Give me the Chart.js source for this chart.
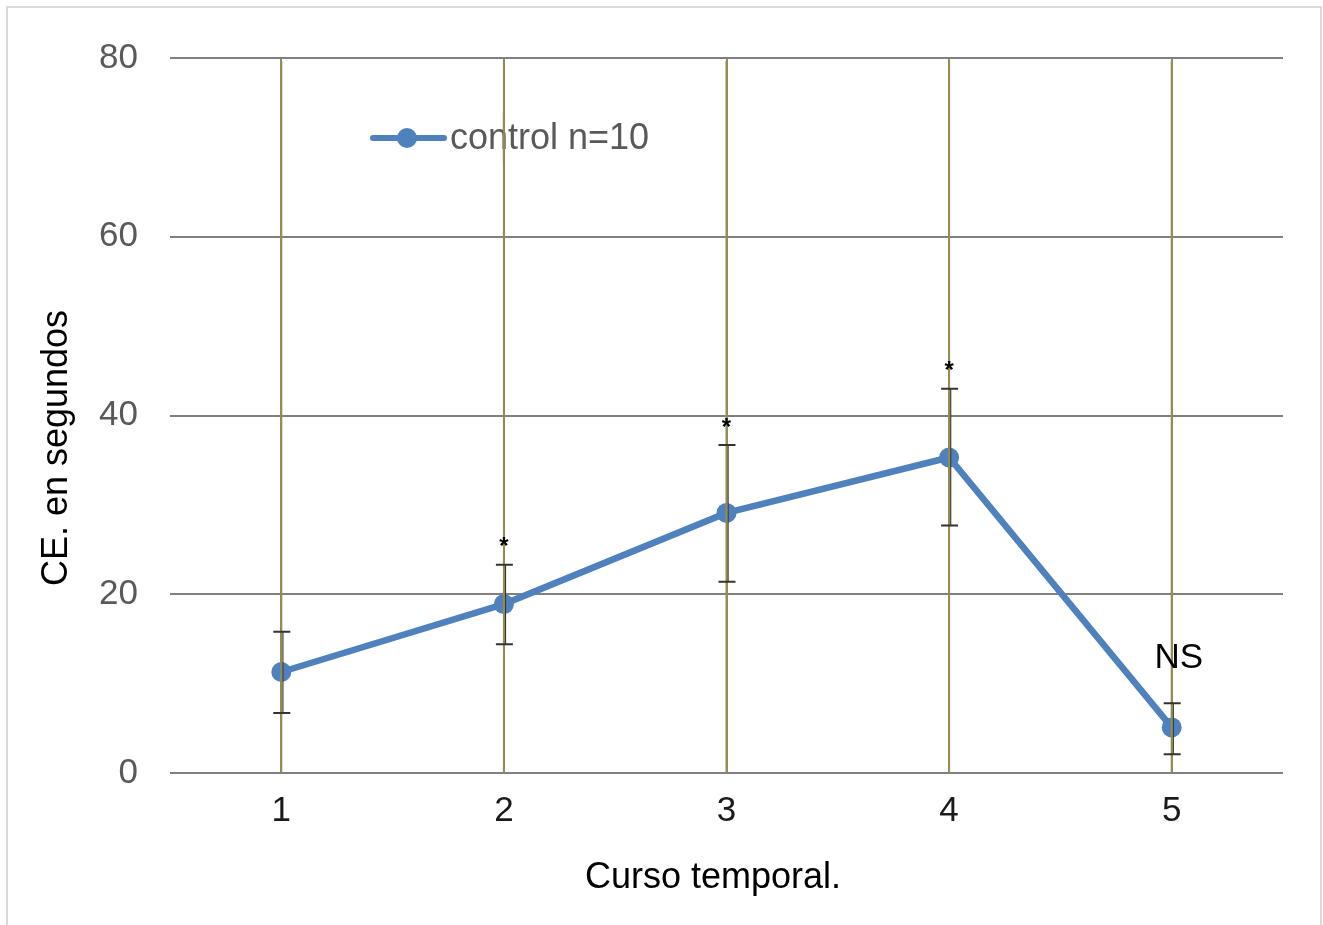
<!DOCTYPE html>
<html>
<head>
<meta charset="utf-8">
<script src="https://cdn.jsdelivr.net/npm/chart.js@4.4.1/dist/chart.umd.min.js"></script>
<style>
  html, body { margin: 0; padding: 0; background: #ffffff; }
  #wrap { position: relative; width: 1323px; height: 925px; }
</style>
</head>
<body>
<div id="wrap"><canvas id="c" width="1323" height="925"></canvas></div>
<script>
// Time-course data: mean CE (seconds) per stage, with its error range
const categories = ['1', '2', '3', '4', '5'];
const meanValues = [11.3, 18.9, 29.1, 35.3, 5.1];
const errorUpper = [15.8, 23.3, 36.7, 43.0, 7.8];
const errorLower = [6.7, 14.4, 21.4, 27.7, 2.1];
const significance = ['', '*', '*', '*', 'NS'];
const yTicks = [0, 20, 40, 60, 80];
const seriesLabel = 'control n=10';

const FONT = '"Liberation Sans", Arial, Helvetica, sans-serif';
const BLUE = '#4f81bd';
const OLIVE = '#958b55';

// Frame, error bars, category lines, significance marks, legend and axis titles
const extras = {
  id: 'extras',
  afterDatasetsDraw(chart) {
    const ctx = chart.ctx;
    const xs = chart.scales.x, ys = chart.scales.y;
    const area = chart.chartArea;
    ctx.save();
    categories.forEach((c, i) => {
      const x = xs.getPixelForValue(i);
      const yt = ys.getPixelForValue(errorUpper[i]);
      const yb = ys.getPixelForValue(errorLower[i]);
      // error bar stem, then the category line over the marker
      ctx.strokeStyle = '#3a3a2a';
      ctx.lineWidth = 1.2;
      ctx.beginPath();
      ctx.moveTo(x + 1.6, yt); ctx.lineTo(x + 1.6, yb);
      ctx.stroke();
      ctx.strokeStyle = OLIVE;
      ctx.lineWidth = 2;
      ctx.beginPath();
      ctx.moveTo(x, area.top + 3); ctx.lineTo(x, area.bottom);
      ctx.stroke();
      // caps
      ctx.strokeStyle = '#333333';
      ctx.lineWidth = 2;
      ctx.beginPath();
      ctx.moveTo(x - 8, yt); ctx.lineTo(x + 9, yt);
      ctx.moveTo(x - 8, yb); ctx.lineTo(x + 9, yb);
      ctx.stroke();
      // significance marks
      const s = significance[i];
      if (s) {
        ctx.fillStyle = '#000000';
        ctx.textAlign = 'center';
        ctx.textBaseline = 'middle';
        if (s === '*') {
          ctx.font = 'bold 24px ' + FONT;
          ctx.fillText(s, x, yt - 17);
        } else {
          ctx.font = '35px ' + FONT;
          ctx.fillText(s, x + 7, yt - 45);
        }
      }
    });

    // legend inside the plot
    const ly = 138;
    ctx.strokeStyle = BLUE;
    ctx.lineWidth = 6;
    ctx.lineCap = 'round';
    ctx.beginPath();
    ctx.moveTo(373, ly); ctx.lineTo(444, ly);
    ctx.stroke();
    ctx.fillStyle = BLUE;
    ctx.beginPath();
    ctx.arc(407, ly, 10, 0, Math.PI * 2);
    ctx.fill();
    ctx.fillStyle = '#595959';
    ctx.font = '36px ' + FONT;
    ctx.textAlign = 'left';
    ctx.textBaseline = 'middle';
    ctx.fillText(seriesLabel, 450, ly + 1);
    // category line passing through the legend
    ctx.strokeStyle = OLIVE;
    ctx.lineWidth = 2;
    ctx.beginPath();
    const x2 = xs.getPixelForValue(1);
    ctx.moveTo(x2, ly - 25); ctx.lineTo(x2, ly + 25);
    ctx.stroke();

    // axis titles
    ctx.fillStyle = '#000000';
    ctx.font = '36px ' + FONT;
    ctx.textAlign = 'center';
    ctx.textBaseline = 'middle';
    ctx.fillText('Curso temporal.', 713, 878);
    ctx.save();
    ctx.translate(57, 448);
    ctx.rotate(-Math.PI / 2);
    ctx.fillText('CE. en segundos', 0, 0);
    ctx.restore();

    // outer frame
    ctx.strokeStyle = '#d9d9d9';
    ctx.lineWidth = 2;
    ctx.strokeRect(7, 7, 1314, 930);
    ctx.restore();
  }
};

new Chart(document.getElementById('c'), {
  type: 'line',
  data: {
    labels: categories,
    datasets: [{
      label: seriesLabel,
      data: meanValues,
      borderColor: BLUE,
      backgroundColor: BLUE,
      borderWidth: 6.5,
      pointRadius: 10,
      pointHoverRadius: 10,
      pointBackgroundColor: BLUE,
      pointBorderWidth: 0,
      tension: 0
    }]
  },
  options: {
    responsive: false,
    animation: false,
    events: [],
    layout: { padding: { top: 58, right: 40, left: 0, bottom: 0 } },
    plugins: {
      legend: { display: false },
      tooltip: { enabled: false }
    },
    scales: {
      x: {
        offset: true,
        grid: { offset: false, color: OLIVE, lineWidth: 2, drawTicks: false },
        border: { display: false },
        ticks: { color: '#1a1a1a', font: { family: FONT, size: 35 }, padding: 17 },
        afterFit(s) { s.height = 152; }
      },
      y: {
        min: 0,
        max: 80,
        afterBuildTicks(s) { s.ticks = yTicks.map(v => ({ value: v })); },
        grid: { color: '#808080', lineWidth: 2, drawTicks: false },
        border: { display: false },
        ticks: { color: '#595959', font: { family: FONT, size: 35 }, padding: 32 },
        afterFit(s) { s.width = 170; }
      }
    }
  },
  plugins: [extras]
});
</script>
</body>
</html>
